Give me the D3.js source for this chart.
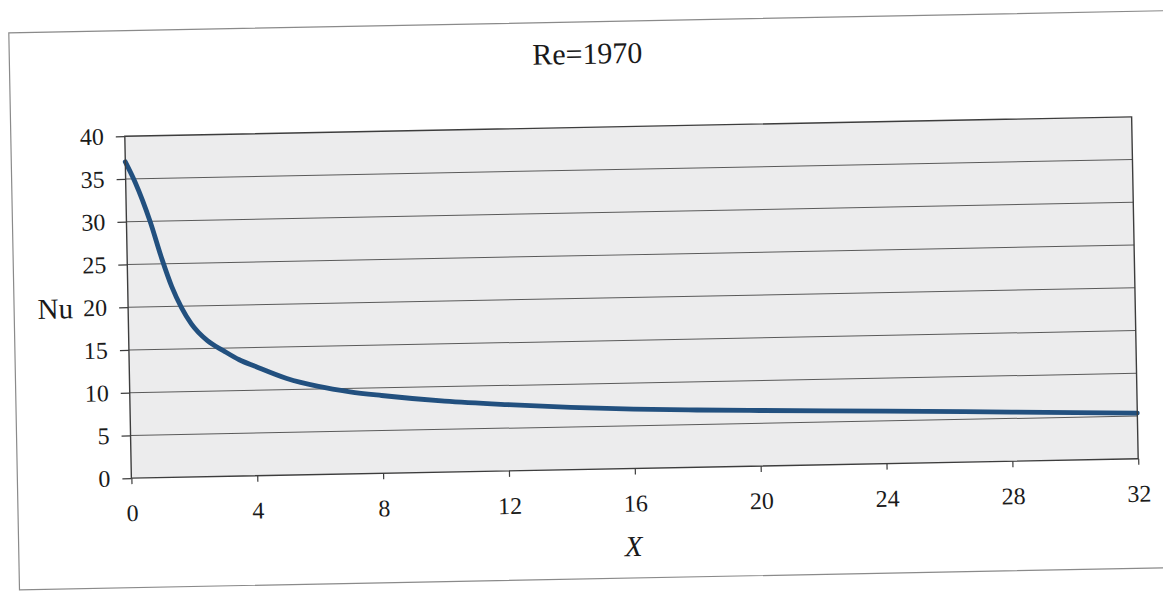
<!DOCTYPE html>
<html>
<head>
<meta charset="utf-8">
<script src="https://cdn.jsdelivr.net/npm/d3@7"></script>
<style>
  html, body { margin: 0; padding: 0; background: #ffffff; }
  svg { display: block; }
  text { font-family: "Liberation Serif", "Times New Roman", serif; fill: #1a1a1a; }
  .tick text { font-size: 24px; }
</style>
</head>
<body>
<svg id="chart" width="1163" height="593"></svg>
<script>
// ---- data ----
const title = "Re=1970";
const xLabel = "X";
const yLabel = "Nu";
const xValues  = [0, 0.3, 0.75, 1.1, 1.4, 1.7, 2.0, 2.5, 3.0, 3.5, 4.0, 5.0, 6.0, 7.0, 8.0, 10, 12, 14, 16, 18, 20, 24, 28, 32];
const nuValues = [37.0, 34.6, 30.0, 25.6, 22.3, 19.8, 17.9, 15.9, 14.7, 13.6, 12.8, 11.3, 10.3, 9.6, 9.1, 8.3, 7.75, 7.3, 6.95, 6.7, 6.5, 6.15, 5.75, 5.35];
const xTicks = [0, 4, 8, 12, 16, 20, 24, 28, 32];
const yTicks = [0, 5, 10, 15, 20, 25, 30, 35, 40];

// ---- layout ----
const W = 1163, H = 593;
const plot = { left: 128, right: 1135, top: 126.5, bottom: 468.5 };
const cx = (plot.left + plot.right) / 2, cy = (plot.top + plot.bottom) / 2;
const tilt = -1.1; // the scanned page is slightly rotated

const svg = d3.select("#chart");
const g = svg.append("g").attr("transform", `rotate(${tilt},${cx},${cy})`);

// outer frame
g.append("rect")
  .attr("x", 14).attr("y", 21).attr("width", 1175).attr("height", 557)
  .attr("fill", "#ffffff").attr("stroke", "#8a8a8a").attr("stroke-width", 1.2);

const x = d3.scaleLinear().domain([0, 32]).range([plot.left, plot.right]);
const y = d3.scaleLinear().domain([0, 40]).range([plot.bottom, plot.top]);

// plot area background
g.append("rect")
  .attr("x", x(0)).attr("y", y(40))
  .attr("width", x(32) - x(0)).attr("height", y(0) - y(40))
  .attr("fill", "#ececed");

// gridlines
g.append("g").selectAll("line")
  .data(yTicks.filter(v => v > 0 && v < 40))
  .join("line")
  .attr("x1", x(0)).attr("x2", x(32))
  .attr("y1", d => y(d)).attr("y2", d => y(d))
  .attr("stroke", "#5a5a5a").attr("stroke-width", 1);

// curve
const line = d3.line()
  .x((d, i) => x(xValues[i]))
  .y(d => y(d))
  .curve(d3.curveMonotoneX);
g.append("path")
  .datum(nuValues)
  .attr("d", line)
  .attr("fill", "none")
  .attr("stroke", "#22507f")
  .attr("stroke-width", 4.8)
  .attr("stroke-linecap", "round");

// plot border
g.append("rect")
  .attr("x", x(0)).attr("y", y(40))
  .attr("width", x(32) - x(0)).attr("height", y(0) - y(40))
  .attr("fill", "none").attr("stroke", "#3d3d3d").attr("stroke-width", 1.4);

// axes
const xAxis = g.append("g")
  .attr("transform", `translate(0,${plot.bottom})`)
  .call(d3.axisBottom(x).tickValues(xTicks).tickSize(6).tickPadding(20).tickFormat(d3.format("d")));
const yAxis = g.append("g")
  .attr("transform", `translate(${plot.left},0)`)
  .call(d3.axisLeft(y).tickValues(yTicks).tickSize(9).tickPadding(12).tickFormat(d3.format("d")));
[xAxis, yAxis].forEach(a => {
  a.attr("font-size", null).attr("font-family", null);
  a.select(".domain").remove();
  a.selectAll(".tick line").attr("stroke", "#3d3d3d").attr("stroke-width", 1.2);
  a.selectAll(".tick text").attr("fill", "#1a1a1a");
});

// titles
g.append("text")
  .attr("x", 592).attr("y", 63)
  .attr("text-anchor", "middle")
  .style("font-size", "30px")
  .text(title);

g.append("text")
  .attr("x", 73).attr("y", y(20) + 10)
  .attr("text-anchor", "end")
  .style("font-size", "29px")
  .text(yLabel);

g.append("text")
  .attr("x", 629).attr("y", 556)
  .attr("text-anchor", "middle")
  .style("font-size", "29px")
  .attr("font-style", "italic")
  .text(xLabel);
</script>
</body>
</html>
